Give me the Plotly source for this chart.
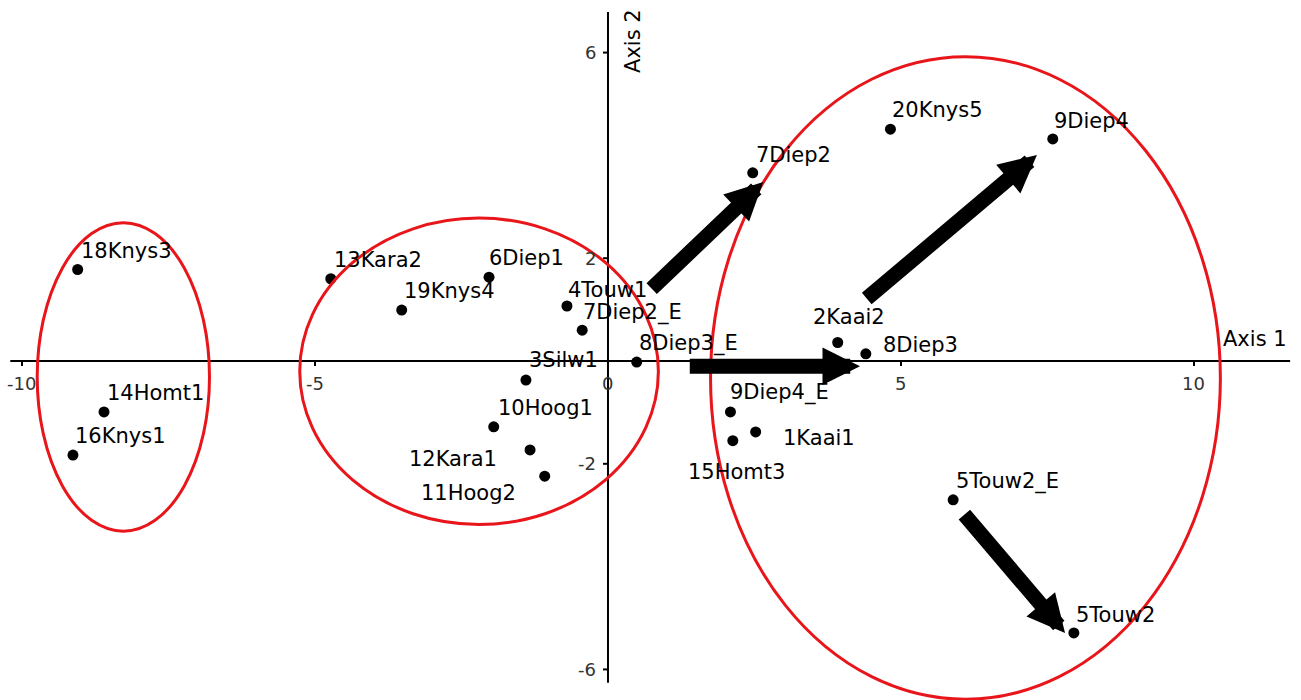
import plotly.graph_objects as go

# ---------------- data ----------------
sites = ["18Knys3", "14Homt1", "16Knys1", "13Kara2", "19Knys4", "6Diep1",
         "4Touw1", "7Diep2_E", "3Silw1", "10Hoog1", "12Kara1", "11Hoog2",
         "8Diep3_E", "7Diep2", "20Knys5", "9Diep4", "2Kaai2", "8Diep3",
         "9Diep4_E", "1Kaai1", "15Homt3", "5Touw2_E", "5Touw2"]
axis1 = [-9.05, -8.60, -9.13, -4.73, -3.52, -2.03,
         -0.70, -0.44, -1.40, -1.95, -1.33, -1.08,
         0.49, 2.47, 4.82, 7.59, 3.92, 4.40,
         2.09, 2.52, 2.13, 5.89, 7.95]
axis2 = [1.78, -0.99, -1.83, 1.60, 0.99, 1.63,
         1.07, 0.60, -0.37, -1.28, -1.73, -2.24,
         -0.02, 3.66, 4.51, 4.32, 0.36, 0.14,
         -0.99, -1.38, -1.55, -2.70, -5.29]

# shift arrows (tail -> head)
arrow_x0 = [0.72, 1.37, 4.39, 6.06]
arrow_y0 = [1.38, -0.10, 1.19, -2.96]
arrow_x1 = [2.65, 4.30, 7.32, 7.80]
arrow_y1 = [3.48, -0.10, 4.01, -5.29]

# group ellipses (centre, radii)
ell_cx = [-8.27, -2.20, 6.10]
ell_cy = [-0.31, -0.20, -0.33]
ell_rx = [1.47, 3.06, 4.35]
ell_ry = [3.00, 2.98, 6.25]

x_ticks = [-10, -5, 0, 5, 10]
y_ticks = [6, 2, -2, -6]

# ---------------- layout constants ----------------
W, H = 1301, 700
XR = [-10.375, 11.826]
YR = [-6.595, 7.023]
X_LINE = [-10.2, 11.64]
Y_LINE = [-6.26, 6.79]
px_x = W / (XR[1] - XR[0])
px_y = H / (YR[1] - YR[0])

FONT = "DejaVu Sans"

# label placement (anchor, dx px, dy px down) relative to the dot
label_pos = {
    "18Knys3": ("left", 2, -19), "14Homt1": ("left", 2, -19),
    "16Knys1": ("left", 1, -19), "13Kara2": ("left", 2, -19),
    "19Knys4": ("left", 1, -19), "6Diep1": ("left", -1, -19),
    "4Touw1": ("left", 0, -16), "7Diep2_E": ("left", 0, -18),
    "3Silw1": ("left", 2, -20), "10Hoog1": ("left", 3, -19),
    "12Kara1": ("right", -32, 9), "11Hoog2": ("right", -28, 17),
    "8Diep3_E": ("left", 1, -19), "7Diep2": ("left", 2, -18),
    "20Knys5": ("left", 1, -19), "9Diep4": ("left", 0, -18),
    "2Kaai2": ("left", -26, -26), "8Diep3": ("left", 16, -9),
    "9Diep4_E": ("left", -1, -19), "1Kaai1": ("left", 26, 6),
    "15Homt3": ("left", -46, 31), "5Touw2_E": ("left", 2, -18),
    "5Touw2": ("left", 1, -18),
}

fig = go.Figure()
fig.add_trace(go.Scatter(x=axis1, y=axis2, mode="markers",
                         marker=dict(size=11, color="black"),
                         hoverinfo="text", text=sites, showlegend=False))

shapes = []
# axes through origin
shapes.append(dict(type="line", x0=X_LINE[0], x1=X_LINE[1], y0=0, y1=0,
                   line=dict(color="black", width=2), layer="below"))
shapes.append(dict(type="line", x0=0, x1=0, y0=Y_LINE[0], y1=Y_LINE[1],
                   line=dict(color="black", width=2), layer="below"))
tick_len = 5
for t in x_ticks:
    if t == 0:
        continue
    shapes.append(dict(type="line", x0=t, x1=t, y0=0, y1=-tick_len / px_y,
                       line=dict(color="black", width=2), layer="below"))
for t in y_ticks:
    shapes.append(dict(type="line", x0=-tick_len / px_x, x1=0, y0=t, y1=t,
                       line=dict(color="black", width=2), layer="below"))
# ellipses
for cx, cy, rx, ry in zip(ell_cx, ell_cy, ell_rx, ell_ry):
    shapes.append(dict(type="circle", x0=cx - rx, x1=cx + rx, y0=cy - ry, y1=cy + ry,
                       line=dict(color="#e8161b", width=3), layer="above"))

ann = []
for t in x_ticks:
    ann.append(dict(x=t, y=0, text=str(t), showarrow=False, yshift=-22,
                    xanchor="center", yanchor="middle", borderpad=0,
                    font=dict(family=FONT, size=18, color="#333")))
for t in y_ticks:
    ann.append(dict(x=0, y=t, text=str(t), showarrow=False, xshift=-11,
                    xanchor="right", yanchor="middle", borderpad=0,
                    font=dict(family=FONT, size=18, color="#333")))

for name, xv, yv in zip(sites, axis1, axis2):
    anc, dx, dy = label_pos[name]
    ann.append(dict(x=xv, y=yv, text=name, showarrow=False,
                    xanchor=anc, yanchor="middle", xshift=dx, yshift=-dy,
                    borderpad=0, font=dict(family=FONT, size=21, color="black")))

# axis titles
ann.append(dict(x=X_LINE[1], y=0, text="Axis 1", showarrow=False, xanchor="right",
                yanchor="middle", xshift=-2, yshift=22, borderpad=0,
                font=dict(family=FONT, size=21, color="black")))
ann.append(dict(x=0, y=Y_LINE[1], text="Axis 2", showarrow=False, textangle=-90,
                xanchor="center", yanchor="top", xshift=25, yshift=4, borderpad=0,
                font=dict(family=FONT, size=21, color="black")))

for x0, y0, x1, y1 in zip(arrow_x0, arrow_y0, arrow_x1, arrow_y1):
    ann.append(dict(x=x1, y=y1, ax=x0, ay=y0, xref="x", yref="y", axref="x", ayref="y",
                    text="", showarrow=True, arrowhead=2, arrowsize=0.5,
                    arrowwidth=15, arrowcolor="black", standoff=0))

fig.update_layout(
    width=W, height=H, margin=dict(l=0, r=0, t=0, b=0),
    paper_bgcolor="white", plot_bgcolor="white",
    xaxis=dict(range=XR, visible=False, fixedrange=True),
    yaxis=dict(range=YR, visible=False, fixedrange=True),
    shapes=shapes, annotations=ann, showlegend=False,
)

fig.write_html("out.html", config={"displayModeBar": False},
               post_script="document.body.style.margin='0';document.body.style.overflow='hidden';")
